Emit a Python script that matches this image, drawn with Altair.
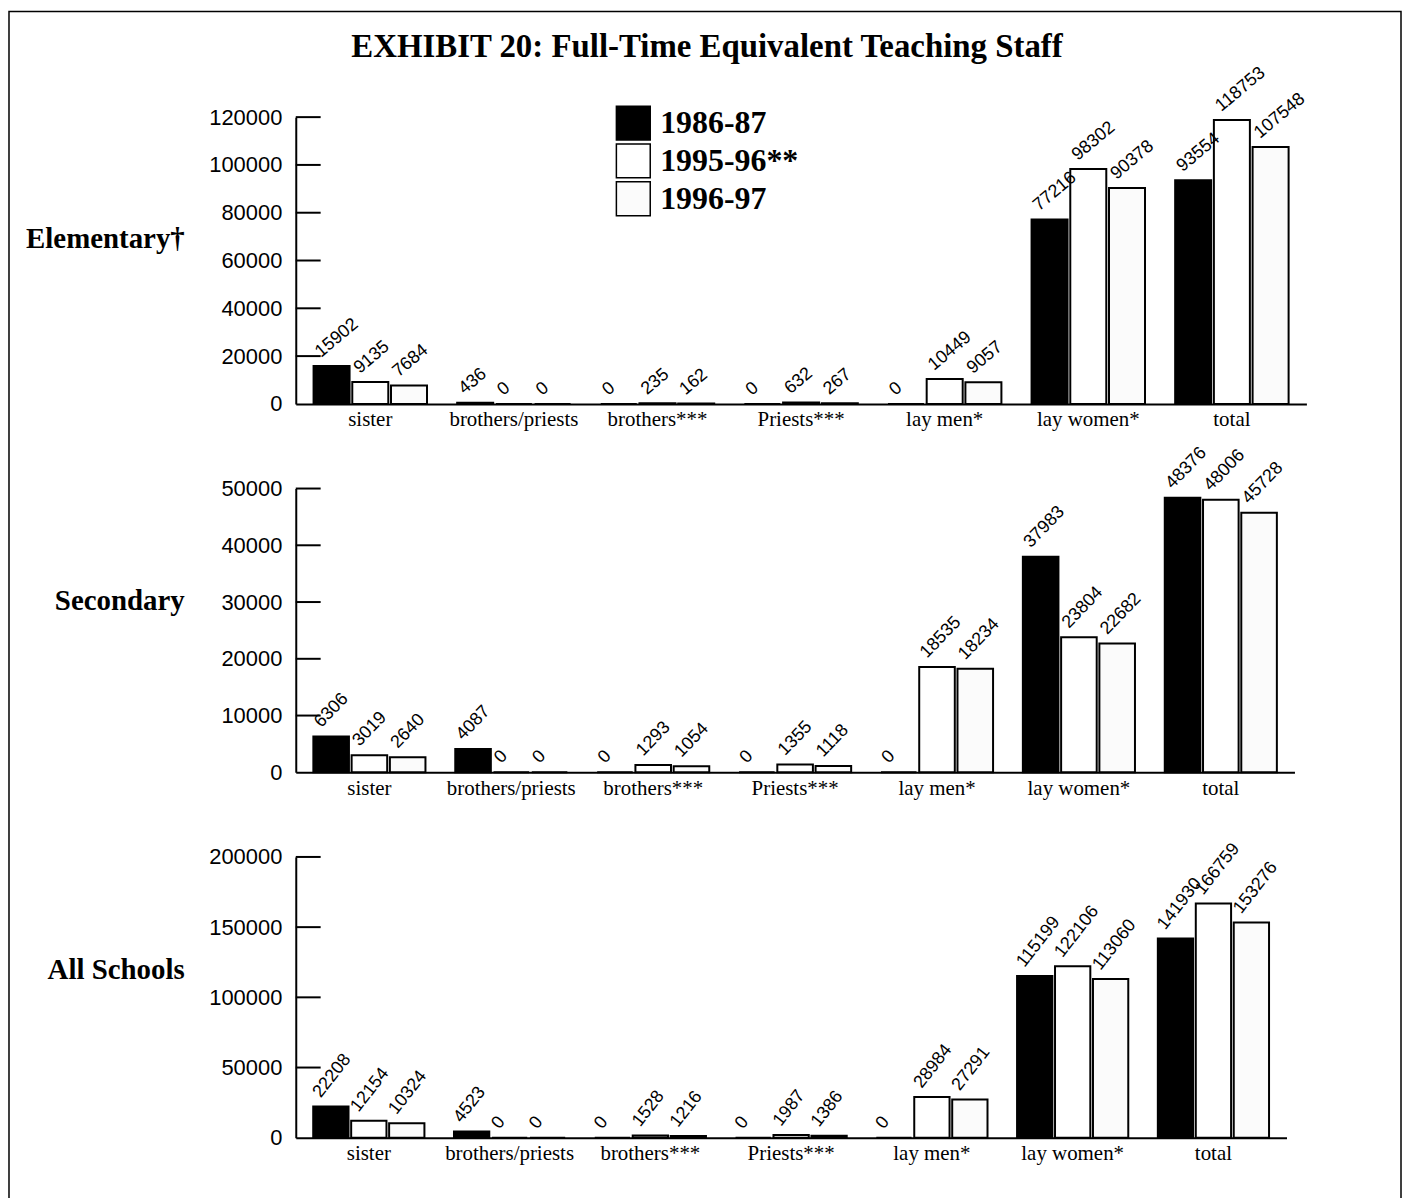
import altair as alt
import pandas as pd

categories = ["sister", "brothers/priests", "brothers***", "Priests***",
              "lay men*", "lay women*", "total"]
series_names = ["1986-87", "1995-96**", "1996-97"]

elem_8687 = [15902, 436, 0, 0, 0, 77216, 93554]
elem_9596 = [9135, 0, 235, 632, 10449, 98302, 118753]
elem_9697 = [7684, 0, 162, 267, 9057, 90378, 107548]

sec_8687 = [6306, 4087, 0, 0, 0, 37983, 48376]
sec_9596 = [3019, 0, 1293, 1355, 18535, 23804, 48006]
sec_9697 = [2640, 0, 1054, 1118, 18234, 22682, 45728]

all_8687 = [22208, 4523, 0, 0, 0, 115199, 141930]
all_9596 = [12154, 0, 1528, 1987, 28984, 122106, 166759]
all_9697 = [10324, 0, 1216, 1386, 27291, 113060, 153276]

elem_ticks = [0, 20000, 40000, 60000, 80000, 100000, 120000]
sec_ticks = [0, 10000, 20000, 30000, 40000, 50000]
all_ticks = [0, 50000, 100000, 150000, 200000]

bar_fills = ["#000000", "#ffffff", "#fbfbfb"]

SERIF = "Liberation Serif"
SANS = "Liberation Sans"


def long_df(a, b, c):
    rows = []
    for s, vals in zip(series_names, [a, b, c]):
        for cat, v in zip(categories, vals):
            rows.append({"category": cat, "series": s, "value": v})
    return pd.DataFrame(rows)


def panel(df, ticks, title, title_y, width, height, show_legend, angle, ldx,
          extras=None):
    x_enc = alt.X("category:N", sort=categories,
                  scale=alt.Scale(paddingInner=0.21, paddingOuter=0.124),
                  axis=alt.Axis(title=None, labelAngle=0, labelFont=SERIF,
                                labelFontSize=21, labelColor="black",
                                labelPadding=5, ticks=False,
                                domainColor="black", domainWidth=2))
    xo_enc = alt.XOffset("series:N", sort=series_names,
                         scale=alt.Scale(paddingInner=0.07))
    y_scale = alt.Scale(domain=[0, ticks[-1]], nice=False)
    if show_legend:
        legend = alt.Legend(orient="none", legendX=321, legendY=-12, title=None,
                            symbolType="square", symbolSize=1156,
                            symbolStrokeColor="black", symbolStrokeWidth=1.5,
                            labelFont=SERIF, labelFontSize=32,
                            labelFontWeight="bold", labelColor="black",
                            rowPadding=-2, labelOffset=9, labelLimit=400)
    else:
        legend = None
    fill_enc = alt.Fill("series:N", sort=series_names,
                        scale=alt.Scale(domain=series_names, range=bar_fills),
                        legend=legend)
    y_axis = alt.Axis(title=title, titleAngle=0, titleAlign="right",
                      titleBaseline="alphabetic", titleX=-112,
                      titleY=title_y, titleFont=SERIF,
                      titleFontSize=29, titleFontWeight="bold",
                      titleColor="black",
                      values=ticks, format="d", grid=False,
                      ticks=False, labelFont=SANS, labelFontSize=22,
                      labelColor="black", labelPadding=14,
                      domainColor="black", domainWidth=2)
    base = alt.Chart(df)
    bars = base.mark_bar(stroke="black", strokeWidth=2).encode(
        x=x_enc, xOffset=xo_enc,
        y=alt.Y("value:Q", scale=y_scale, axis=y_axis),
        fill=fill_enc,
    )
    labels = base.mark_text(angle=angle, align="left", baseline="alphabetic",
                            dx=ldx, dy=-13, font=SANS, fontSize=18,
                            color="black").encode(
        x=alt.X("category:N", sort=categories),
        xOffset=alt.XOffset("series:N", sort=series_names),
        y=alt.Y("value:Q"),
        text=alt.Text("value:Q", format="d"),
    )
    tick_df = pd.DataFrame({"value": ticks[1:]})
    tick_rules = alt.Chart(tick_df).mark_rule(color="black", strokeWidth=2).encode(
        y=alt.Y("value:Q"),
        x=alt.value(0), x2=alt.value(25),
    )
    layers = [bars, labels, tick_rules]
    if extras:
        layers += extras
    return alt.layer(*layers).properties(width=width, height=height)


frame = alt.Chart(alt.Data(values=[{"a": 1}])).mark_rect(
    fill=None, stroke="black", strokeWidth=1.5).encode(
    x=alt.value(-288), x2=alt.value(1110),
    y=alt.value(-106), y2=alt.value(1100))

title_txt = alt.Chart(alt.Data(values=[{"t": "EXHIBIT 20: Full-Time Equivalent Teaching Staff"}])).mark_text(
    font=SERIF, fontSize=33, fontWeight="bold", color="black",
    align="center", baseline="alphabetic").encode(
    text="t:N", x=alt.value(413), y=alt.value(-60))

p1 = panel(long_df(elem_8687, elem_9596, elem_9697), elem_ticks,
           "Elementary†", 131, 1015, 288, True, 320, -3, [frame, title_txt])
p2 = panel(long_df(sec_8687, sec_9596, sec_9697), sec_ticks,
           "Secondary", 121, 1003, 285, False, 314, -1)
p3 = panel(long_df(all_8687, all_9596, all_9697), all_ticks,
           "All Schools", 122, 995, 282, False, 308, 0)

chart = alt.vconcat(p1, p2, p3, spacing=85, bounds="flush").resolve_scale(
    fill="independent", y="independent", x="independent", xOffset="independent"
).properties(padding=0).configure(
    background="white", view=alt.ViewConfig(stroke=None))

chart.save("out.html", embed_options={"renderer": "svg", "actions": False})
